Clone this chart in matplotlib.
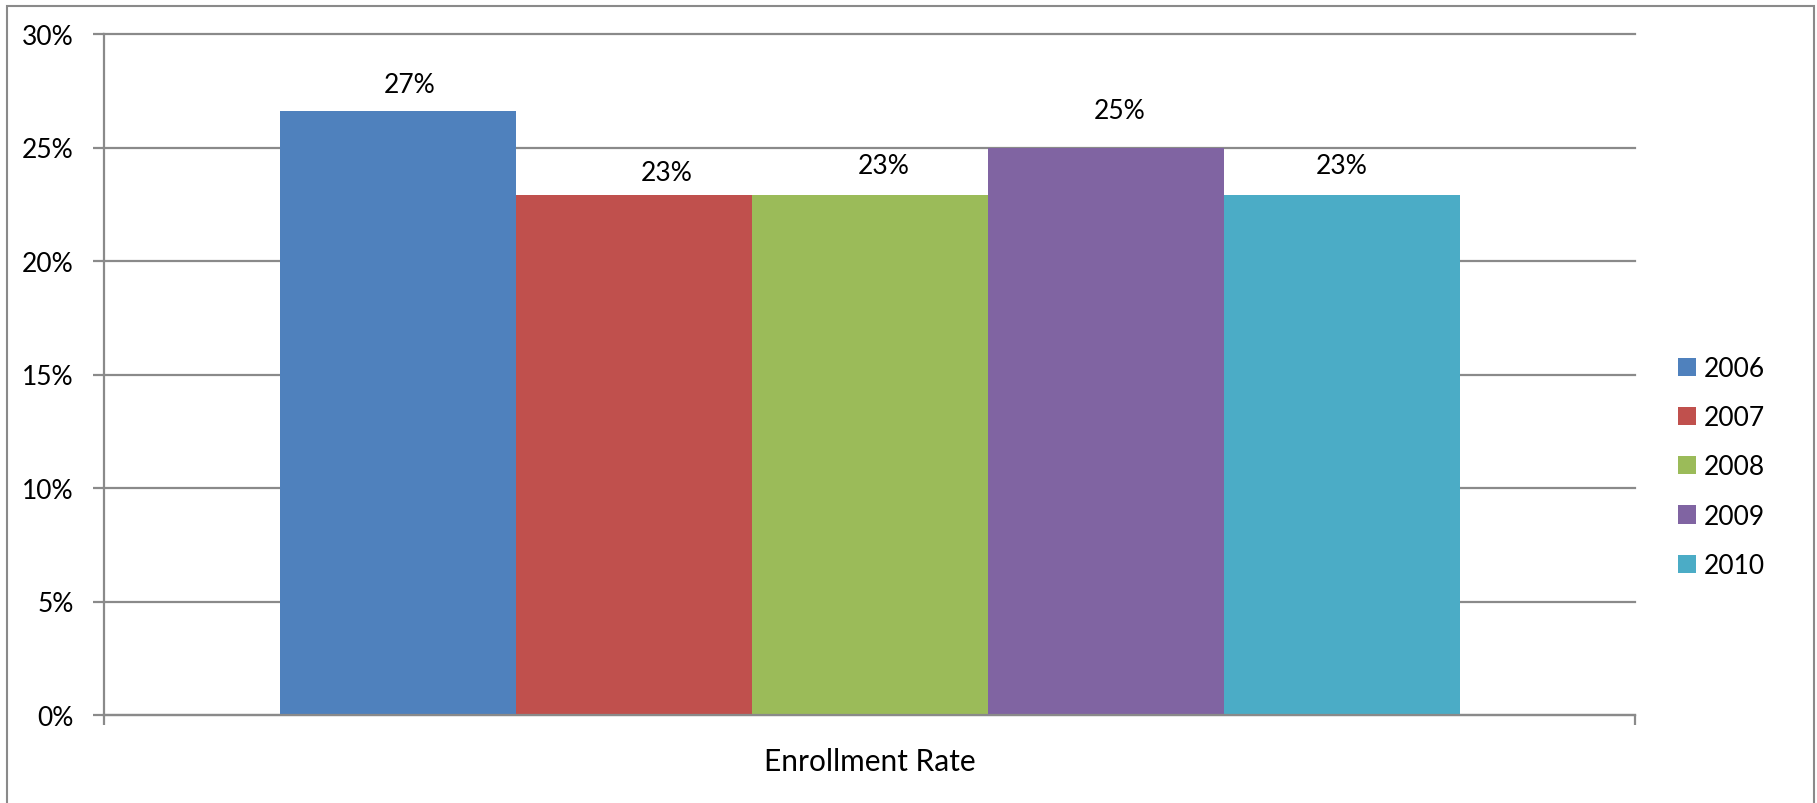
import matplotlib
matplotlib.use("Agg")
import matplotlib.pyplot as plt
from matplotlib.patches import Rectangle
from matplotlib.ticker import PercentFormatter

# Enrollment rate per year
years = ["2006", "2007", "2008", "2009", "2010"]
rates = [0.266, 0.229, 0.229, 0.250, 0.229]
category = "Enrollment Rate"

colors = ["#4F81BD", "#C0504D", "#9BBB59", "#8064A2", "#4BACC6"]
# nudges for the value labels, in points (x, y above the bar top)
label_dx = [9, 24, 10, 10, 0]
label_dy = [14, 11, 16, 21, 16]

GRAY = "#8a8a8a"
FONT = "Lato"
FS = 19

plt.rcParams["font.family"] = [FONT, "DejaVu Sans"]

fig = plt.figure(figsize=(18.17, 8.04), dpi=100)
ax = fig.add_axes([104 / 1817, 88 / 804, 1531 / 1817, 681 / 804])

bar_w = 236 / 1531
n = len(years)
bars = []
for i, (yr, val) in enumerate(zip(years, rates)):
    x = (i - (n - 1) / 2) * bar_w
    b = ax.bar(x, val, width=bar_w, color=colors[i], label=yr, zorder=3)
    bars.append(b)
    ax.annotate(f"{val:.0%}", xy=(x, val), xytext=(label_dx[i], label_dy[i]),
                textcoords="offset points", ha="center", va="baseline",
                fontsize=FS, color="black")

ax.set_xlim(-0.5, 0.5)
ax.set_ylim(0, 0.30)
ax.set_yticks([0, 0.05, 0.10, 0.15, 0.20, 0.25, 0.30])
ax.yaxis.set_major_formatter(PercentFormatter(1.0, decimals=0))

ax.set_xticks([0])
ax.set_xticklabels([category])
ax.set_xticks([-0.5, 0.5], minor=True)
ax.tick_params(axis="x", which="major", length=0, pad=23, labelsize=21.5)
ax.tick_params(axis="x", which="minor", length=7.5, width=1.6, color=GRAY)
ax.tick_params(axis="y", length=8, width=1.6, color=GRAY, pad=14, labelsize=FS)

ax.yaxis.grid(True, color=GRAY, linewidth=1.6)
ax.set_axisbelow(True)
for gl in ax.get_ygridlines():
    gl.set_clip_on(False)

for side in ["top", "right"]:
    ax.spines[side].set_visible(False)
for side in ["left", "bottom"]:
    ax.spines[side].set_color(GRAY)
    ax.spines[side].set_linewidth(1.6)
    ax.spines[side].set_zorder(4)

fig.legend(handles=bars, labels=years, loc="center left",
           bbox_to_anchor=(1678 / 1817, 336 / 804), frameon=False,
           fontsize=FS, handlelength=0.68, handleheight=0.68,
           handletextpad=0.3, labelspacing=0.92, borderpad=0,
           borderaxespad=0)

# outer chart border
fig.patches.append(Rectangle((7 / 1817, -2 / 804), 1807 / 1817, 799 / 804,
                             transform=fig.transFigure, fill=False,
                             edgecolor=GRAY, linewidth=1.5))

fig.savefig("out.png", dpi=100)
